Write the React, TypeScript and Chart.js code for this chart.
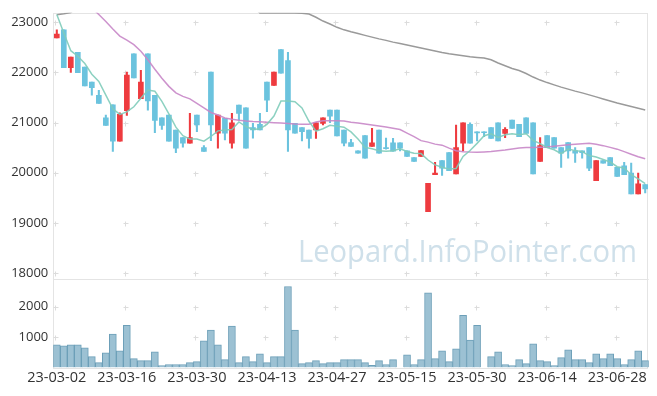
import React, { useEffect, useRef } from 'react';
import { Chart, registerables } from 'chart.js';

Chart.register(...registerables);

const dates = [
  '23-03-02','23-03-03','23-03-06','23-03-07','23-03-08','23-03-09','23-03-10','23-03-13','23-03-14','23-03-15',
  '23-03-16','23-03-17','23-03-20','23-03-21','23-03-22','23-03-23','23-03-24','23-03-27','23-03-28','23-03-29',
  '23-03-30','23-03-31','23-04-03','23-04-04','23-04-05','23-04-06','23-04-07','23-04-10','23-04-11','23-04-12',
  '23-04-13','23-04-14','23-04-17','23-04-18','23-04-19','23-04-20','23-04-21','23-04-24','23-04-25','23-04-26',
  '23-04-27','23-04-28','23-05-02','23-05-03','23-05-04','23-05-08','23-05-09','23-05-10','23-05-11','23-05-12',
  '23-05-15','23-05-16','23-05-17','23-05-18','23-05-19','23-05-22','23-05-23','23-05-24','23-05-25','23-05-26',
  '23-05-30','23-05-31','23-06-01','23-06-02','23-06-05','23-06-07','23-06-08','23-06-09','23-06-12','23-06-13',
  '23-06-14','23-06-15','23-06-16','23-06-19','23-06-20','23-06-21','23-06-22','23-06-23','23-06-26','23-06-27',
  '23-06-28','23-06-29','23-06-30','23-07-03','23-07-04'
];

const opens = [
  22682,22847,22090,22399,22103,21807,21543,21095,21352,20627,
  21234,22366,21477,22366,21543,21095,21148,20852,20700,20588,
  21148,20502,22004,20786,21082,20588,21346,21293,20898,20963,
  21807,21741,22452,22235,20983,20897,20851,20851,20983,21247,
  21247,20852,20601,20436,20739,20522,20851,20500,20594,20594,
  20436,20304,20324,19224,19962,20245,20403,19975,20588,20963,
  20815,20815,20897,20996,20785,21049,20963,21095,20996,20225,
  20739,20700,20502,20601,20436,20436,20502,19843,20245,20304,
  20107,20140,19995,19580,19764
];
const highs = [
  22847,22847,22301,22399,22103,21807,21642,21148,21352,21194,
  22004,22366,22037,22366,21543,21095,21148,20852,20700,21181,
  21148,20542,22004,21148,21082,21181,21346,21293,20983,21181,
  21807,22004,22452,22399,20983,20897,20851,20996,21095,21247,
  21247,20852,20667,20436,20739,20884,20851,20690,20686,20594,
  20436,20304,20443,19791,20206,20245,20403,20950,20996,20996,
  20815,20815,20897,20996,20897,21049,20963,21095,20996,20700,
  20739,20700,20502,20601,20502,20436,20502,20245,20245,20304,
  20107,20206,20192,19995,19764
];
const lows = [
  22682,22090,21998,21991,21728,21543,21378,20944,20423,20627,
  21141,21886,21477,21247,20799,20865,20627,20400,20509,20588,
  20819,20423,20641,20489,20654,20489,21049,20489,20687,20852,
  21214,21741,21984,20423,20786,20634,20489,20686,20950,20996,
  20733,20535,20522,20390,20291,20522,20390,20470,20430,20436,
  20324,20225,20324,19224,19962,19949,20041,19975,20436,20588,
  20634,20720,20686,20634,20700,20884,20719,20785,19975,20225,
  20502,20489,20107,20291,20206,20291,20041,19843,20192,20140,
  19929,19962,19580,19580,19600
];
const closes = [
  22762,22090,22301,21991,21728,21695,21378,20944,20627,21161,
  21945,21886,21807,21431,21042,20944,20627,20489,20588,20700,
  20950,20423,20950,21148,20786,20996,21181,20489,20852,20852,
  21444,22004,21984,20852,20786,20818,20686,20996,21095,21128,
  20733,20588,20522,20390,20291,20594,20390,20480,20430,20489,
  20324,20225,20443,19791,19995,20094,20041,20502,20996,20588,
  20795,20800,20686,20634,20864,20884,20719,20785,19975,20541,
  20502,20489,20390,20436,20390,20400,20094,20245,20192,20140,
  19929,19962,19580,19778,19679
];
const volumes = [
  742,710,742,742,645,355,161,484,1097,548,
  1387,290,226,226,516,65,97,97,97,161,
  194,871,1226,742,258,1355,161,355,194,452,
  161,355,355,2656,1226,129,161,226,129,161,
  161,258,258,258,161,75,226,97,258,0,
  419,97,258,2452,290,548,194,613,1710,903,
  1387,0,355,516,97,65,258,129,774,226,
  194,65,323,581,258,258,161,452,290,452,
  290,97,258,548,226
];
const ma5 = [
  23150,22780,22430,22320,22174,21961,21819,21547,21274,21161,
  21211,21313,21485,21646,21622,21422,21170,20907,20738,20670,
  20671,20630,20722,20834,20851,20861,21012,20920,20861,20874,
  20964,21128,21427,21427,21414,21289,21025,20828,20876,20945,
  20928,20908,20813,20672,20505,20477,20437,20429,20437,20477,
  20423,20390,20382,20254,20156,20110,20073,20085,20326,20444,
  20585,20738,20775,20703,20758,20775,20757,20777,20645,20581,
  20504,20458,20379,20472,20441,20421,20342,20313,20264,20214,
  20120,20094,19961,19878,19786
];
const ma20 = [
  23600,23560,23500,23430,23360,23280,23150,23010,22860,22720,
  22640,22550,22420,22250,22060,21880,21720,21590,21520,21470,
  21380,21290,21200,21150,21090,21065,21045,21030,21020,21015,
  21005,20998,20990,20980,20970,20965,20965,21010,21036,21036,
  21036,21030,21005,20990,20970,20950,20930,20910,20885,20860,
  20790,20720,20640,20610,20570,20550,20490,20440,20420,20412,
  20410,20415,20422,20440,20455,20475,20495,20505,20501,20508,
  20515,20530,20545,20560,20570,20580,20587,20566,20540,20505,
  20470,20420,20370,20320,20280
];
const ma60 = [
  23145,23165,23190,23300,23300,23300,23300,23300,23300,23300,
  23300,23300,23300,23300,23300,23300,23300,23300,23300,23300,
  23300,23300,23300,23300,23300,23300,23300,23300,23300,23180,
  23180,23180,23180,23180,23180,23176,23160,23095,23020,22960,
  22895,22845,22805,22770,22735,22700,22665,22635,22600,22575,
  22545,22515,22485,22455,22425,22395,22370,22350,22330,22310,
  22296,22285,22250,22185,22130,22075,22035,21975,21905,21845,
  21795,21750,21705,21665,21625,21590,21550,21510,21470,21430,
  21390,21355,21320,21285,21250
];
const priceTicks = [18000, 19000, 20000, 21000, 22000, 23000];
const volumeTicks = [1000, 2000];
const labelEvery = 10;
const watermark = 'Leopard.InfoPointer.com';

const RED = '#ee3b3f';
const BLUE = '#6bc3de';
const FONT = '"Open Sans", "Noto Sans", sans-serif';

export default function App() {
  const ref = useRef<HTMLCanvasElement>(null);

  useEffect(() => {
    if (!ref.current) return;
    const colors = closes.map((c, i) => (c >= opens[i] ? RED : BLUE));

    const decor = {
      id: 'decor',
      beforeDatasetsDraw(chart: any) {
        const ctx = chart.ctx;
        const ca = chart.chartArea;
        const xs = chart.scales.x;
        const ys = chart.scales.y;
        const yv = chart.scales.yv;
        ctx.save();
        // watermark
        ctx.font = '31.5px ' + FONT;
        ctx.fillStyle = '#cfe0ea';
        ctx.textBaseline = 'alphabetic';
        ctx.textAlign = 'left';
        const w = ctx.measureText(watermark).width;
        ctx.translate(298, 262);
        ctx.scale(339 / w, 1);
        ctx.fillText(watermark, 0, 0);
        ctx.setTransform(1, 0, 0, 1, 0, 0);
        // borders
        ctx.strokeStyle = '#e4e4e4';
        ctx.lineWidth = 1;
        ctx.strokeRect(Math.round(ca.left) + 0.5, Math.round(ca.top) + 0.5,
          Math.round(ca.right - ca.left) - 1, Math.round(ca.bottom - ca.top));
        ctx.beginPath();
        const dy = Math.round(ys.bottom) + 0.5;
        ctx.moveTo(ca.left, dy);
        ctx.lineTo(ca.right, dy);
        ctx.stroke();
        // crosses
        ctx.strokeStyle = '#dcdcdc';
        const cross = (px: number, py: number) => {
          const x = Math.round(px) + 0.5;
          const y = Math.round(py) + 0.5;
          ctx.beginPath();
          ctx.moveTo(x - 2, y);
          ctx.lineTo(x + 3, y);
          ctx.moveTo(x, y - 2);
          ctx.lineTo(x, y + 3);
          ctx.stroke();
        };
        for (let i = 0; i < dates.length; i += labelEvery) {
          const px = xs.getPixelForValue(i) - 1.5;
          priceTicks.forEach((t) => cross(px, ys.getPixelForValue(t)));
          volumeTicks.forEach((t) => cross(px, yv.getPixelForValue(t)));
        }
        ctx.restore();
      },
    };

    const chart = new Chart(ref.current, {
      type: 'bar',
      data: {
        labels: dates,
        datasets: [
          { type: 'line', label: 'MA5', data: ma5, yAxisID: 'y', borderColor: 'rgba(128,204,186,0.9)', borderWidth: 1.5, pointRadius: 0, order: 0 } as any,
          { type: 'line', label: 'MA20', data: ma20, yAxisID: 'y', borderColor: 'rgba(200,135,200,0.9)', borderWidth: 1.5, pointRadius: 0, order: 0 } as any,
          { type: 'line', label: 'MA60', data: ma60, yAxisID: 'y', borderColor: '#9a9a9a', borderWidth: 1.5, pointRadius: 0, order: 0 } as any,
          { type: 'bar', label: 'body', data: opens.map((o, i) => [Math.min(o, closes[i]), Math.max(o, closes[i])]), yAxisID: 'y', backgroundColor: colors, grouped: false, barThickness: 5, order: 1 } as any,
          { type: 'bar', label: 'wick', data: lows.map((l, i) => [l, highs[i]]), yAxisID: 'y', backgroundColor: colors, grouped: false, barThickness: 1.4, order: 2 } as any,
          { type: 'bar', label: 'volume', data: volumes, yAxisID: 'yv', backgroundColor: '#9cc1d3', borderColor: '#6c9fb8', borderWidth: 1, grouped: false, barPercentage: 1, categoryPercentage: 1, order: 3 } as any,
        ],
      },
      options: {
        responsive: false,
        animation: false,
        events: [],
        layout: { padding: { top: 10.3, right: 8.3, left: 0, bottom: 0 } },
        plugins: { legend: { display: false }, tooltip: { enabled: false } },
        scales: {
          x: {
            type: 'category',
            offset: true,
            grid: { display: false, drawTicks: false },
            border: { display: false },
            ticks: {
              autoSkip: false,
              maxRotation: 0,
              padding: 2,
              color: '#333',
              font: { family: FONT, size: 14.5 },
              callback: (_v: any, i: number) => (i % labelEvery === 0 ? dates[i] : ''),
            },
            afterFit: (s: any) => { s.height = 28.5; },
          },
          yv: {
            type: 'linear',
            position: 'left',
            stack: 'main',
            stackWeight: 89.5,
            min: 0,
            max: 2915,
            grid: { display: false, drawTicks: false },
            border: { display: false },
            ticks: { padding: 5, color: '#333', font: { family: FONT, size: 13 }, callback: (v: any) => String(v) },
            afterBuildTicks: (s: any) => { s.ticks = volumeTicks.map((v) => ({ value: v })); },
            afterFit: (s: any) => { s.width = 53.3; },
          },
          y: {
            type: 'linear',
            position: 'left',
            stack: 'main',
            stackWeight: 267.7,
            min: 17893,
            max: 23184,
            grid: { display: false, drawTicks: false },
            border: { display: false },
            ticks: { padding: 5, color: '#333', font: { family: FONT, size: 13 }, callback: (v: any) => String(v) },
            afterBuildTicks: (s: any) => { s.ticks = priceTicks.map((v) => ({ value: v })); },
            afterFit: (s: any) => { s.width = 53.3; },
          },
        } as any,
      },
      plugins: [decor],
    });
    return () => chart.destroy();
  }, []);

  return (
    <div style={{ position: 'fixed', left: 0, top: 0, width: 657, height: 396, background: '#fff' }}>
      <canvas ref={ref} width={657} height={396} />
    </div>
  );
}
